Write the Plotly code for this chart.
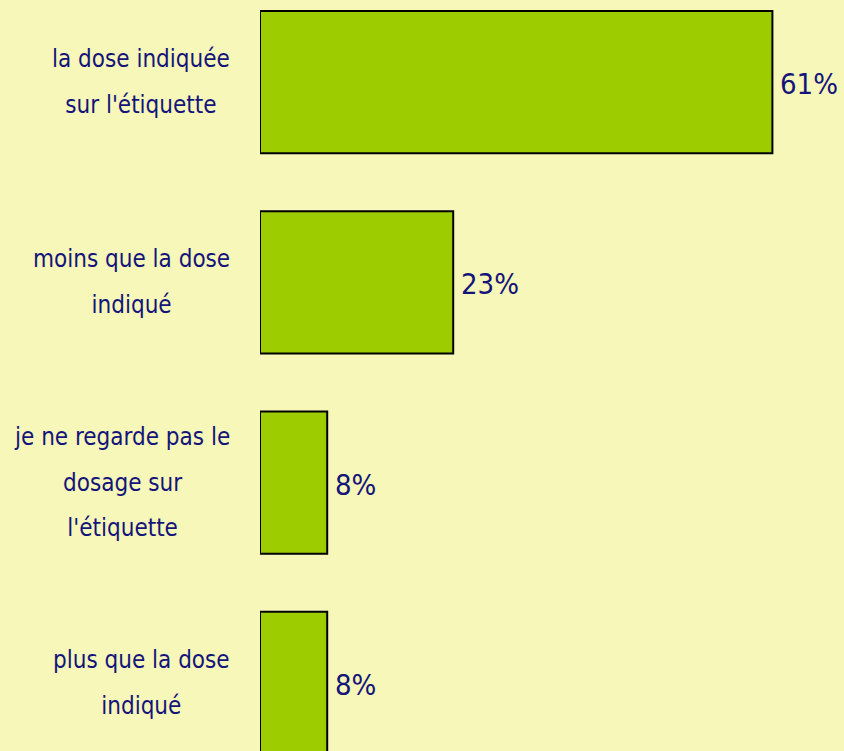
import plotly.graph_objects as go

categories = ["la dose indiquée sur l'étiquette",
              "moins que la dose indiqué",
              "je ne regarde pas le dosage sur l'étiquette",
              "plus que la dose indiqué"]
label_lines = [["la dose indiquée", "sur l'étiquette"],
               ["moins que la dose", "indiqué"],
               ["je ne regarde pas le", "dosage sur", "l'étiquette"],
               ["plus que la dose", "indiqué"]]
values = [61, 23, 8, 8]
value_labels = ["61%", "23%", "8%", "8%"]

FONT = "DejaVu Sans Condensed, Liberation Sans Narrow, sans-serif"
TXT = "#14147A"
W, H = 844, 751

fig = go.Figure(go.Bar(
    y=categories, x=values, orientation="h",
    marker=dict(color="#9DCC00", line=dict(color="#000000", width=2)),
    hoverinfo="skip",
))

annotations = []
for cat, lines in zip(categories, label_lines):
    txt = "<br>".join('<span style="font-size:24px">%s</span>' % ln for ln in lines)
    annotations.append(dict(
        x=232 / W, xref="paper", y=cat, yref="y", text=txt,
        showarrow=False, xanchor="right", yanchor="middle", align="center",
        yshift=0, font=dict(family=FONT, size=35, color=TXT)))
for cat, v, t in zip(categories, values, value_labels):
    annotations.append(dict(
        x=v, xref="x", y=cat, yref="y", text=t, showarrow=False,
        xanchor="left", yanchor="middle", xshift=6, yshift=-2,
        font=dict(family=FONT, size=29, color=TXT)))

fig.update_layout(
    width=W, height=H,
    margin=dict(l=0, r=0, t=0, b=0),
    paper_bgcolor="#F6F7B8", plot_bgcolor="#F6F7B8",
    bargap=0.29,
    showlegend=False,
    xaxis=dict(domain=[260 / W, 1], range=[0, 584 / 8.4], visible=False, fixedrange=True),
    yaxis=dict(range=[3.34, -0.41], visible=False, fixedrange=True),
    annotations=annotations,
)
fig.write_html("out.html", config={"displayModeBar": False},
               post_script="document.body.style.margin='0';document.body.style.background='#F6F7B8';")
